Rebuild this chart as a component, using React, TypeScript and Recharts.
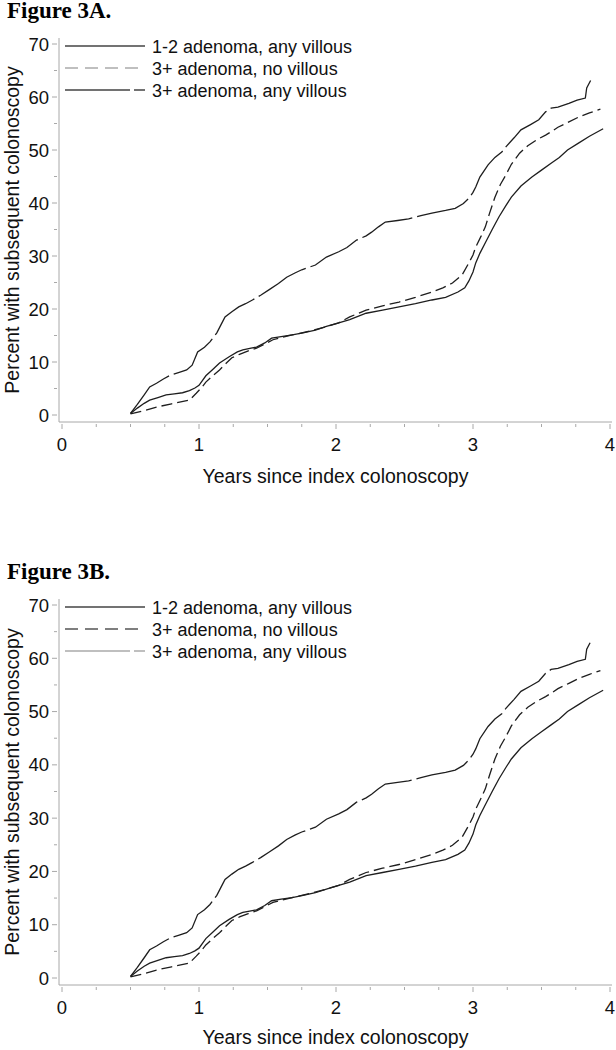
import React from "react";
import { LineChart, Line, XAxis, YAxis, Legend } from "recharts";

// 1-2 adenoma, any villous (solid, lowest curve at the end)
const fewVillousYears = [0.5, 0.55, 0.6, 0.64, 0.7, 0.76, 0.82, 0.88, 0.93, 0.97, 1.0, 1.05, 1.1, 1.15, 1.22, 1.28, 1.32, 1.38, 1.42, 1.48, 1.53, 1.6, 1.68, 1.76, 1.85, 1.93, 2.02, 2.1, 2.22, 2.34, 2.46, 2.58, 2.7, 2.8, 2.89, 2.94, 2.97, 3.0, 3.02, 3.05, 3.09, 3.14, 3.19, 3.24, 3.28, 3.35, 3.43, 3.5, 3.57, 3.63, 3.69, 3.77, 3.85, 3.95];
const fewVillousPct = [0.3, 1.3, 2.2, 2.8, 3.3, 3.8, 4.0, 4.2, 4.6, 5.1, 5.6, 7.4, 8.6, 9.8, 11.0, 11.9, 12.3, 12.6, 12.8, 13.6, 14.5, 14.8, 15.1, 15.5, 16.0, 16.7, 17.4, 18.0, 19.2, 19.8, 20.4, 21.0, 21.7, 22.2, 23.2, 24.0, 25.3, 27.0, 28.7, 30.5, 32.5, 35.0, 37.4, 39.5, 41.1, 43.2, 44.9, 46.2, 47.5, 48.6, 50.0, 51.3, 52.6, 54.0];

// 3+ adenoma, no villous (dashed)
const manyNoVillousYears = [0.5, 0.6, 0.69, 0.8, 0.93, 0.98, 1.02, 1.05, 1.1, 1.15, 1.2, 1.24, 1.3, 1.36, 1.42, 1.48, 1.54, 1.6, 1.68, 1.75, 1.83, 1.92, 2.02, 2.1, 2.22, 2.34, 2.46, 2.58, 2.7, 2.78, 2.85, 2.92, 2.97, 3.0, 3.02, 3.06, 3.09, 3.12, 3.16, 3.2, 3.24, 3.28, 3.34, 3.4, 3.47, 3.53, 3.58, 3.62, 3.7, 3.77, 3.85, 3.93];
const manyNoVillousPct = [0.2, 0.8, 1.5, 2.1, 2.8, 4.1, 5.2, 6.2, 7.4, 8.5, 9.8, 10.8, 11.5, 12.1, 12.6, 13.4, 14.2, 14.6, 15.1, 15.5, 16.0, 16.6, 17.4, 18.5, 19.8, 20.6, 21.3, 22.2, 23.2, 24.0, 24.9, 26.4, 28.7, 30.2, 31.7, 33.8, 35.5, 38.0, 41.1, 43.5, 45.3, 47.3, 49.4, 50.8, 52.0, 52.8, 53.6, 54.3, 55.3, 56.2, 57.0, 57.7];

// 3+ adenoma, any villous (long dash, top curve)
const manyVillousYears = [0.5, 0.55, 0.6, 0.64, 0.69, 0.74, 0.79, 0.85, 0.91, 0.95, 0.99, 1.04, 1.08, 1.13, 1.16, 1.19, 1.24, 1.29, 1.34, 1.39, 1.45, 1.51, 1.58, 1.64, 1.7, 1.75, 1.85, 1.93, 2.02, 2.08, 2.15, 2.22, 2.26, 2.31, 2.36, 2.45, 2.53, 2.62, 2.7, 2.8, 2.87, 2.93, 2.97, 3.0, 3.02, 3.05, 3.11, 3.16, 3.21, 3.24, 3.3, 3.35, 3.42, 3.48, 3.53, 3.57, 3.62, 3.7, 3.76, 3.82, 3.83, 3.86];
const manyVillousPct = [0.3, 2.0, 3.8, 5.3, 6.0, 6.8, 7.5, 8.0, 8.5, 9.4, 11.9, 12.8, 13.8, 15.5, 17.0, 18.5, 19.5, 20.4, 21.0, 21.7, 22.6, 23.6, 24.8, 26.0, 26.8, 27.4, 28.3, 29.8, 30.8, 31.6, 33.0, 33.8, 34.5, 35.5, 36.4, 36.7, 37.0, 37.6, 38.1, 38.6, 39.0, 39.9, 40.9, 42.0, 43.0, 44.9, 47.2, 48.6, 49.6, 50.6, 52.3, 53.8, 54.8, 55.7, 57.2, 57.9, 58.1, 58.8, 59.4, 59.8, 61.7, 63.2];

const seriesNames = ["1-2 adenoma, any villous", "3+ adenoma, no villous", "3+ adenoma, any villous"];
const xTicks = [0, 0.25, 0.5, 0.75, 1, 1.25, 1.5, 1.75, 2, 2.25, 2.5, 2.75, 3, 3.25, 3.5, 3.75, 4];
const yTicks = [0, 5, 10, 15, 20, 25, 30, 35, 40, 45, 50, 55, 60, 65, 70];
const xTickLabels = ["0", "1", "2", "3", "4"];
const yTickLabels = ["0", "10", "20", "30", "40", "50", "60", "70"];

const toPoints = (years: number[], pct: number[]) => years.map((year, i) => ({ year, pct: pct[i] }));
const fewVillous = toPoints(fewVillousYears, fewVillousPct);
const manyNoVillous = toPoints(manyNoVillousYears, manyNoVillousPct);
const manyVillous = toPoints(manyVillousYears, manyVillousPct);

const FONT = "'Liberation Sans', Arial, sans-serif";
const GRID = "#a8a8a8";
const INK = "#1e1e1e";

const XTick = ({ x, y, payload }: any) => {
  const label = xTickLabels.find((t) => Number(t) === payload.value);
  return (
    <g>
      <line x1={x} x2={x} y1={y} y2={y + (label ? 5 : 3)} stroke={GRID} />
      {label && (
        <text x={x} y={y + 27} textAnchor="middle" fontSize={18.5} fontFamily={FONT} fill="#111">
          {label}
        </text>
      )}
    </g>
  );
};

const YTick = ({ x, y, payload }: any) => {
  const label = yTickLabels.find((t) => Number(t) === payload.value);
  return (
    <g>
      <line x1={x} x2={x - (label ? 5 : 3)} y1={y} y2={y} stroke={GRID} />
      {label && (
        <text x={x - 8} y={y + 6.5} textAnchor="end" fontSize={18.5} fontFamily={FONT} fill="#111">
          {label}
        </text>
      )}
    </g>
  );
};

interface LegendStyle {
  stroke: string;
  dash?: string;
}

const makeLegend = (styles: LegendStyle[]) => () => (
  <div style={{ fontFamily: FONT, fontSize: 18, color: "#111" }}>
    {seriesNames.map((name, i) => (
      <div key={name} style={{ display: "flex", alignItems: "center", height: 22, whiteSpace: "nowrap" }}>
        <svg width={80} height={22} style={{ display: "block" }}>
          <line x1={0} x2={80} y1={10} y2={10} stroke={styles[i].stroke} strokeWidth={1.3} strokeDasharray={styles[i].dash} />
        </svg>
        <span style={{ marginLeft: 7 }}>{name}</span>
      </div>
    ))}
  </div>
);

interface PanelProps {
  title: string;
  top: number;
  height: number;
  axisHeight: number;
  titleOffset: number;
  legend: LegendStyle[];
}

const Panel = ({ title, top, height, axisHeight, titleOffset, legend }: PanelProps) => (
  <div style={{ position: "absolute", left: 0, top, width: 616, height }}>
    <div
      style={{
        position: "absolute",
        left: 7,
        top: 0,
        fontFamily: "'Liberation Serif', 'Times New Roman', serif",
        fontWeight: "bold",
        fontSize: 23,
        lineHeight: "22px",
        color: "#000",
      }}
    >
      {title}
    </div>
    <LineChart width={616} height={height} margin={{ top: 38, right: 4, bottom: 0, left: 0 }}>
      <XAxis
        dataKey="year"
        type="number"
        domain={[0, 4]}
        ticks={xTicks}
        padding={{ left: 3, right: 2 }}
        height={axisHeight}
        tickSize={0}
        tickLine={false}
        interval={0}
        axisLine={{ stroke: GRID }}
        tick={<XTick />}
        label={{
          content: ({ viewBox }: any) => (
            <text x={viewBox.x + viewBox.width / 2} y={viewBox.y + titleOffset + 6} textAnchor="middle" fontSize={19.5} fontFamily={FONT} fill="#111">
              Years since index colonoscopy
            </text>
          ),
        }}
      />
      <YAxis
        type="number"
        domain={[0, 70]}
        ticks={yTicks}
        padding={{ top: 6, bottom: 7 }}
        width={59}
        tickSize={0}
        tickLine={false}
        interval={0}
        axisLine={{ stroke: GRID }}
        tick={<YTick />}
        label={{
          content: ({ viewBox }: any) => {
            const cy = viewBox.y + viewBox.height / 2;
            return (
              <text x={19} y={cy} transform={`rotate(-90 19 ${cy})`} textAnchor="middle" fontSize={19.5} fontFamily={FONT} fill="#111">
                Percent with subsequent colonoscopy
              </text>
            );
          },
        }}
      />
      <XAxis xAxisId="top" orientation="top" type="number" domain={[0, 4]} height={0} tick={false} tickLine={false} axisLine={{ stroke: GRID }} />
      <YAxis yAxisId="right" orientation="right" type="number" domain={[0, 70]} width={0} tick={false} tickLine={false} axisLine={{ stroke: GRID }} />
      <Legend layout="vertical" align="center" verticalAlign="middle" wrapperStyle={{ left: 65, top: 36, width: "auto" }} content={makeLegend(legend)} />
      <Line data={fewVillous} dataKey="pct" name={seriesNames[0]} type="linear" stroke={INK} strokeWidth={1.3} dot={false} isAnimationActive={false} />
      <Line data={manyNoVillous} dataKey="pct" name={seriesNames[1]} type="linear" stroke={INK} strokeWidth={1.3} strokeDasharray="11 5" dot={false} isAnimationActive={false} />
      <Line data={manyVillous} dataKey="pct" name={seriesNames[2]} type="linear" stroke={INK} strokeWidth={1.3} strokeDasharray="55 5" dot={false} isAnimationActive={false} />
    </LineChart>
  </div>
);

export default function App() {
  return (
    <div style={{ position: "absolute", left: 0, top: 0, width: 616, height: 1050, background: "#fff" }}>
      <Panel
        title="Figure 3A."
        top={0}
        height={500}
        axisHeight={78}
        titleOffset={55}
        legend={[{ stroke: "#444" }, { stroke: "#aaa", dash: "13 7" }, { stroke: "#444", dash: "65 4" }]}
      />
      <Panel
        title="Figure 3B."
        top={561}
        height={489}
        axisHeight={65}
        titleOffset={53}
        legend={[{ stroke: "#444" }, { stroke: "#555", dash: "13 7" }, { stroke: "#aaa", dash: "65 4" }]}
      />
    </div>
  );
}
